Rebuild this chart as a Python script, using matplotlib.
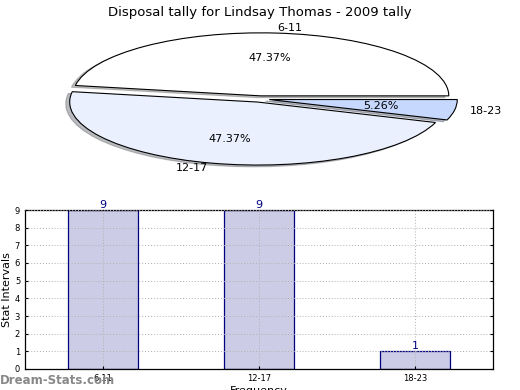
import matplotlib
matplotlib.use("Agg")
import matplotlib.pyplot as plt

categories = ["6-11", "12-17", "18-23"]
counts = [9, 9, 1]
pie_colors = ["#ffffff", "#eaf0fd", "#c6d8fd"]
title = "Disposal tally for Lindsay Thomas - 2009 tally"

fig = plt.figure(figsize=(5.2, 3.9), dpi=100)

# ---- Pie (elliptical) ----
rx, ry, cx, cy = 188, 63, 260, 99
lim = 1.3
axp = fig.add_axes([(cx - rx * lim) / 520, (390 - (cy + ry * lim)) / 390,
                    2 * rx * lim / 520, 2 * ry * lim / 390])
wedges, texts, autotexts = axp.pie(
    counts, labels=categories, colors=pie_colors, autopct="%.2f%%",
    startangle=0, explode=[0.05, 0.05, 0.05],
    shadow={"ox": -0.015, "oy": -0.02, "shade": 0.5},
    wedgeprops=dict(edgecolor="black", linewidth=0.8),
    textprops=dict(fontsize=8), labeldistance=1.08, pctdistance=0.6)
axp.set_aspect("auto")
axp.set_xlim(-lim, lim)
axp.set_ylim(-lim, lim)
fig.text(0.5, 0.985, title, ha="center", va="top", fontsize=9.5)

# ---- Bar chart ----
axb = fig.add_axes([25 / 520, 21 / 390, 468 / 520, 159 / 390])
x = list(range(len(categories)))
bars = axb.bar(x, counts, width=0.45, color="#ccccE6", edgecolor="#000080",
               linewidth=0.9, zorder=2)
for xi, v in zip(x, counts):
    axb.text(xi, v, str(v), ha="center", va="bottom", color="#000080",
             fontsize=8)
axb.set_xlim(-0.5, 2.5)
axb.set_ylim(0, 9)
axb.set_yticks(range(0, 10))
axb.set_xticks(x)
axb.set_xticklabels(categories)
axb.tick_params(labelsize=6, direction="in", right=True, top=False, length=2)
axb.grid(True, linestyle=(0, (1, 2)), color="#b0b0b0", linewidth=0.7, zorder=3)
axb.set_axisbelow(False)
axb.set_ylabel("Stat Intervals", fontsize=8, labelpad=2)
axb.set_xlabel("Frequency", fontsize=8, labelpad=2)
for s in axb.spines.values():
    s.set_linewidth(0.9)

fig.text(0.0, 0.008, "Dream-Stats.com", ha="left", va="bottom",
         fontsize=8.5, color="#888888", fontweight="bold")

fig.savefig("out.png", dpi=100)
